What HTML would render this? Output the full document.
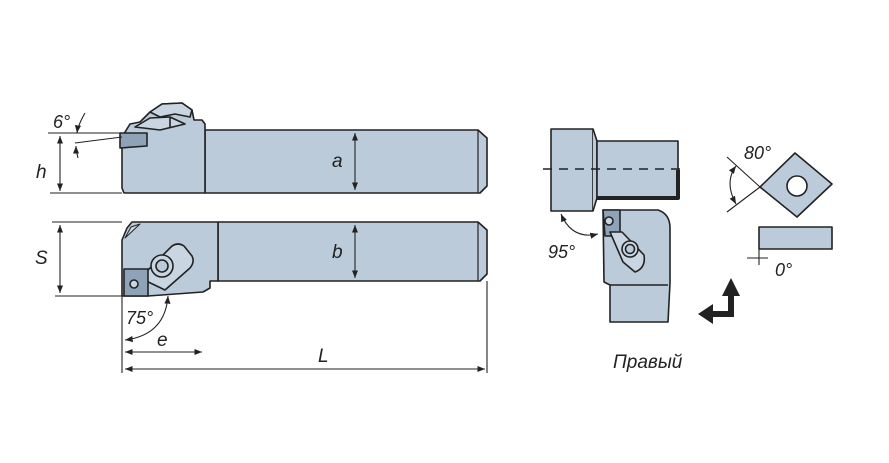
<!DOCTYPE html>
<html><head><meta charset="utf-8"><style>
html,body{margin:0;padding:0;background:#fff;}
svg{display:block}
text{font-family:"Liberation Sans",sans-serif;font-style:italic;fill:#222;}
</style></head><body>
<svg width="889" height="463" viewBox="0 0 889 463" xmlns="http://www.w3.org/2000/svg">
<defs>
<marker id="a" viewBox="0 0 10 10" refX="10" refY="5" markerWidth="7" markerHeight="7" orient="auto-start-reverse"><path d="M0,1 L10,5 L0,9 Z" fill="#222"/></marker>
</defs>
<g stroke="#222" stroke-width="1.6" fill="#bccbd9" stroke-linejoin="round">
<path d="M205,130 L478,130 L487,138 L487,186 L480,193 L205,193 Z"/>
<path d="M122,137 L130,124 L140,122 L150,112 L162,104 L182,103 L192,110 L194,120 L202,120 L205,124 L205,193 L124,193 L122,188 Z"/>
<path d="M150,112 L162,104 L182,103 L192,110 L190,117 L175,114 L160,117 Z" fill="#c9d6e2"/>
<path d="M135,127 L150,118 L170,117 L185,124 L160,130 Z" fill="#c9d6e2"/>
<line x1="170" y1="117" x2="170" y2="128"/>
<path d="M120,133 L147,133 L147,146 L120,148 Z" fill="#8fa3b8"/>
<line x1="478" y1="130" x2="478" y2="193" stroke-width="1.2"/>
<path d="M218,222 L478,222 L487,230 L487,274 L480,281 L218,281 Z"/>
<path d="M132,222 L218,222 L218,281 L210,281 L210,288 L203,292 L148,296 L122,296 L122,240 L127,228 Z"/>
<line x1="478" y1="222" x2="478" y2="281" stroke-width="1.2"/>
<path d="M125,238 L131,227 L140,224 Z" fill="#c9d6e2" stroke-width="1"/>
<path d="M140,278 L172,246 Q178,242 184,246 L192,256 Q195,262 190,268 L165,290 Z" fill="#c9d6e2"/>
<circle cx="162" cy="266" r="11" fill="#c9d6e2"/>
<circle cx="162" cy="266" r="6"/>
<path d="M124,269 L148,269 L148,296 L124,296 Z" fill="#8fa3b8"/>
<circle cx="134" cy="284" r="4" fill="#c9d6e2"/>
<rect x="551" y="129" width="42" height="82"/>
<path d="M593,129 L597,141 L597,198 L593,211"/>
<rect x="597" y="141" width="81" height="57"/>
<path d="M597,198 L678,198 L678,170" fill="none" stroke-width="4"/>
<path d="M603,210 L658,210 Q670,214 670,228 L670,283 L668,322 L610,322 L610,285 L604,282 Z"/>
<line x1="610" y1="285" x2="668" y2="285"/>
<path d="M603,210 L620,210 L620,236 L605,236 Z" fill="#8fa3b8"/>
<circle cx="609" cy="221" r="4" fill="#c9d6e2"/>
<path d="M610,232 L622,232 L644,255 Q646,268 635,272 L623,262 Z" fill="#c9d6e2"/>
<circle cx="630" cy="249" r="8" fill="#c9d6e2"/>
<circle cx="630" cy="249" r="4.5"/>
<path d="M795,153 L832,184 L797,217 L760,187 Z"/>
<circle cx="797" cy="186" r="10" fill="#fff"/>
<rect x="759" y="227" width="73" height="22"/>
</g>
<g stroke="#222" stroke-width="1.1" fill="none">
<line x1="543" y1="169" x2="680" y2="169" stroke-dasharray="9,7" stroke-width="1.4"/>
<line x1="48" y1="133" x2="122" y2="133"/>
<line x1="50" y1="193" x2="122" y2="193"/>
<line x1="60" y1="136" x2="60" y2="191" marker-start="url(#a)" marker-end="url(#a)"/>
<line x1="75" y1="143" x2="122" y2="137"/>
<path d="M85,113 Q78,125 77,133" marker-end="url(#a)"/>
<path d="M78,158 Q76,150 76,146" marker-end="url(#a)"/>
<line x1="355" y1="133" x2="355" y2="190" marker-start="url(#a)" marker-end="url(#a)"/>
<line x1="52" y1="222" x2="122" y2="222"/>
<line x1="55" y1="296" x2="122" y2="296"/>
<line x1="60" y1="225" x2="60" y2="293" marker-start="url(#a)" marker-end="url(#a)"/>
<line x1="355" y1="225" x2="355" y2="278" marker-start="url(#a)" marker-end="url(#a)"/>
<line x1="122" y1="296" x2="122" y2="373"/>
<line x1="487" y1="281" x2="487" y2="373"/>
<path d="M168,296 Q165,335 125,340" marker-start="url(#a)" marker-end="url(#a)"/>
<line x1="125" y1="352" x2="202" y2="352" marker-start="url(#a)" marker-end="url(#a)"/>
<line x1="125" y1="369" x2="485" y2="369" marker-start="url(#a)" marker-end="url(#a)"/>
<path d="M561,214 Q572,240 598,234" marker-start="url(#a)" marker-end="url(#a)"/>
<line x1="727" y1="157" x2="760" y2="187"/>
<line x1="727" y1="212" x2="760" y2="187"/>
<path d="M736,166 Q724,182 736,204" marker-start="url(#a)" marker-end="url(#a)"/>
<line x1="747" y1="258" x2="768" y2="258"/>
<line x1="759" y1="249" x2="759" y2="265"/>
</g>
<g fill="#222">
<path d="M728,296 L734,296 L734,317 L713,317 L713,311 L728,311 Z"/>
<path d="M731,278 L740,296 L722,296 Z"/>
<path d="M698,314 L713,304 L713,324 Z"/>
</g>
<g font-size="19">
<text x="53" y="128" font-size="18">6°</text>
<text x="36" y="178">h</text>
<text x="332" y="167">a</text>
<text x="35" y="264">S</text>
<text x="332" y="258">b</text>
<text x="126" y="324" font-size="18">75°</text>
<text x="157" y="346">e</text>
<text x="318" y="362">L</text>
<text x="548" y="258" font-size="18">95°</text>
<text x="744" y="159" font-size="18">80°</text>
<text x="775" y="276" font-size="18">0°</text>
<text x="613" y="368">Правый</text>
</g>
</svg>
</body></html>
